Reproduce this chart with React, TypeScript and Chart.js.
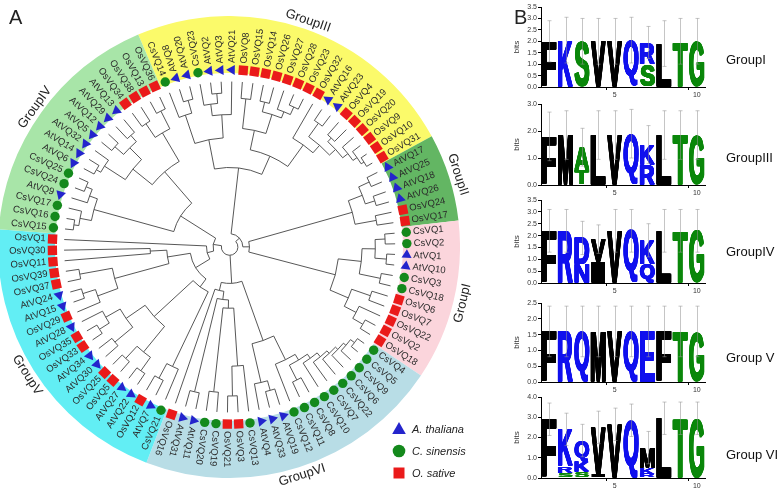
import React, { useEffect, useRef } from 'react';
import { Chart, registerables } from 'chart.js';

Chart.register(...registerables);

const FONT = '"Liberation Sans", Arial, Helvetica, sans-serif';

// ---------------- Panel A data ----------------
type Node = { r: number; kids: (Node | string)[] };
const clade = (r: number, ...kids: (Node | string)[]): Node => ({ r, kids });

const GROUP_NAMES = ['GroupIII', 'GroupII', 'GroupI', 'GroupVI', 'GroupV', 'GroupIV'];
const GROUP_SIZES = [23, 6, 11, 21, 20, 17];
const GROUP_COLORS = ['#fbfa6a', '#63b663', '#fbd5dc', '#b8dde6', '#62eef4', '#a8e5a8'];

const SPECIES_NAMES = ['A. thaliana', 'C. sinensis', 'O. sative'];
const SPECIES_PREFIX = ['At', 'Cs', 'Os'];
const SPECIES_COLORS = ['#2424cc', '#14891c', '#ea1a1a'];
const SPECIES_SHAPES = ['triangle', 'circle', 'rect'];

// internal node value = radial position (fraction of tip radius)
const CLADE_III = clade(0.48,
  clade(0.66,
    clade(0.84, 'CsVQ14', clade(0.92, 'AtVQ8', 'AtVQ20')),
    clade(0.8, clade(0.87, 'CsVQ23', clade(0.93, 'AtVQ2', 'AtVQ3')), 'AtVQ21')),
  clade(0.6,
    clade(0.72,
      clade(0.9, 'OsVQ8', 'OsVQ15'),
      clade(0.84, clade(0.9, 'OsVQ14', 'OsVQ26'), clade(0.88, 'OsVQ27', clade(0.93, 'OsVQ28', 'OsVQ23')))),
    clade(0.76, 'OsVQ32',
      clade(0.82, clade(0.92, 'AtVQ16', 'AtVQ23'),
        clade(0.87, clade(0.9, 'OsVQ4', 'OsVQ19'),
          clade(0.91, 'OsVQ20', clade(0.94, 'OsVQ9', clade(0.96, 'OsVQ10', 'OsVQ31'))))))));

const CLADE_II = clade(0.77,
  clade(0.86, clade(0.93, 'AtVQ17', 'AtVQ25'), clade(0.92, 'AtVQ18', 'AtVQ26')),
  clade(0.9, 'OsVQ24', 'OsVQ17'));

const CLADE_I = clade(0.66,
  clade(0.8, clade(0.88, clade(0.94, 'CsVQ1', 'CsVQ2'), clade(0.95, 'AtVQ1', 'AtVQ10')), clade(0.93, 'CsVQ3', 'CsVQ18')),
  clade(0.78, clade(0.9, 'OsVQ6', 'OsVQ7'), clade(0.86, 'OsVQ22', clade(0.93, 'OsVQ2', 'OsVQ18'))));

const CLADE_VI = clade(0.22,
  clade(0.6,
    clade(0.76,
      clade(0.8,
        clade(0.83,
          clade(0.86, clade(0.88, clade(0.9, clade(0.92, clade(0.95, 'CsVQ4', 'CsVQ5'), 'CsVQ9'), 'CsVQ6'), 'CsVQ22'), 'CsVQ7'),
          'CsVQ10'),
        clade(0.9, 'CsVQ8', 'CsVQ11')),
      'CsVQ12'),
    clade(0.84, clade(0.9, 'AtVQ19', 'AtVQ33'), 'AtVQ4')),
  clade(0.27,
    clade(0.32,
      clade(0.37,
        clade(0.72, 'CsVQ13', clade(0.9, 'OsVQ3', 'OsVQ21')),
        clade(0.88, 'CsVQ19', 'CsVQ20')),
      clade(0.9, 'AtVQ11', 'AtVQ31')),
    'OsVQ16'));

const CLADE_V = clade(0.14,
  clade(0.24,
    clade(0.3,
      clade(0.8, 'CsVQ21', clade(0.9, 'AtVQ7', 'OsVQ12')),
      clade(0.62,
        clade(0.82, clade(0.92, 'AtVQ22', 'AtVQ27'), clade(0.92, 'OsVQ5', 'OsVQ25')),
        clade(0.76, clade(0.9, 'AtVQ30', 'AtVQ34'), clade(0.86, clade(0.93, 'OsVQ33', 'OsVQ35'), 'AtVQ28')))),
    clade(0.38,
      clade(0.72, clade(0.85, 'OsVQ29', clade(0.93, 'AtVQ15', 'AtVQ24')), clade(0.92, 'OsVQ37', 'OsVQ39')),
      clade(0.48, 'OsVQ11', 'OsVQ30'))),
  'OsVQ1');

const CLADE_IV = clade(0.35,
  clade(0.85, clade(0.92, clade(0.95, 'CsVQ15', 'CsVQ16'), 'CsVQ17'), clade(0.9, 'AtVQ9', clade(0.94, 'CsVQ24', 'CsVQ25'))),
  clade(0.6,
    clade(0.75,
      clade(0.9, clade(0.93, 'AtVQ6', 'AtVQ14'), 'AtVQ32'),
      clade(0.85, clade(0.92, 'AtVQ5', 'AtVQ12'), clade(0.9, 'AtVQ29', 'AtVQ13'))),
    clade(0.8, clade(0.9, 'OsVQ34', 'OsVQ38'), clade(0.92, 'OsVQ13', 'OsVQ36'))));

const TREE = clade(0.05,
  clade(0.08, CLADE_III, clade(0.12, CLADE_II, CLADE_I)),
  CLADE_VI,
  clade(0.1, CLADE_V, CLADE_IV));

// ---------------- Panel B data ----------------
const LOGO_POSITIONS = ['1', '2', '3', '4', '5', '6', '7', '8', '9', '10'];
const LOGO_XTICKS = ['', '', '', '', '5', '', '', '', '', '10'];
const LOGO_GROUPS = ['GroupI', 'GroupIII', 'GroupIV', 'Group V', 'Group VI'];
const LOGO_MAX = [3.5, 3.0, 3.5, 2.5, 4.0];
const LOGO_STEP = [0.5, 1.0, 0.5, 0.5, 1.0];

// letters bottom -> top at each position, with their heights in bits
const LOGO_I_LETTERS = ['F', 'K', 'S', 'V', 'V', 'Q', 'SR', 'L', 'T', 'G'];
const LOGO_I_BITS = [[2.0], [2.05], [2.0], [2.0], [2.0], [2.05], [1.0, 0.95], [1.9], [2.0], [2.0]];
const LOGO_I_ERR = [0.9, 1.0, 1.0, 1.0, 1.0, 1.0, 0.7, 1.0, 1.0, 1.0];

const LOGO_III_LETTERS = ['F', 'M', 'TA', 'L', 'V', 'Q', 'RK', 'L', 'T', 'G'];
const LOGO_III_BITS = [[1.8], [1.85], [0.55, 0.85], [1.85], [1.85], [1.9], [0.75, 0.75], [1.85], [1.85], [1.85]];
const LOGO_III_ERR = [0.9, 0.9, 0.7, 0.9, 0.9, 0.9, 0.7, 0.9, 0.9, 0.9];

const LOGO_IV_LETTERS = ['F', 'R', 'ND', 'IV', 'V', 'Q', 'QK', 'L', 'T', 'G'];
const LOGO_IV_BITS = [[2.2], [2.2], [0.8, 1.1], [0.9, 0.95], [2.2], [2.2], [0.8, 1.0], [2.2], [2.2], [2.2]];
const LOGO_IV_ERR = [0.9, 0.9, 0.7, 0.6, 0.9, 0.9, 0.7, 0.9, 0.9, 0.9];

const LOGO_V_LETTERS = ['F', 'R', 'Q', 'M', 'V', 'Q', 'E', 'F', 'T', 'G'];
const LOGO_V_BITS = [[1.6], [1.6], [1.6], [1.6], [1.6], [1.6], [1.6], [1.6], [1.6], [1.6]];
const LOGO_V_ERR = [0.8, 0.8, 0.8, 0.8, 0.8, 0.8, 0.8, 0.8, 0.8, 0.8];

const LOGO_VI_LETTERS = ['F', 'SRK', 'SKQ', 'IV', 'V', 'Q', 'RKM', 'L', 'T', 'G'];
const LOGO_VI_BITS = [[2.9], [0.25, 0.35, 1.8], [0.3, 0.5, 1.05], [0.15, 2.35], [2.65], [2.85], [0.2, 0.3, 1.0], [2.95], [2.95], [2.95]];
const LOGO_VI_ERR = [0.8, 0.8, 0.8, 0.8, 0.8, 0.8, 0.8, 0.8, 0.8, 0.8];

const LOGO_LETTERS = [LOGO_I_LETTERS, LOGO_III_LETTERS, LOGO_IV_LETTERS, LOGO_V_LETTERS, LOGO_VI_LETTERS];
const LOGO_BITS = [LOGO_I_BITS, LOGO_III_BITS, LOGO_IV_BITS, LOGO_V_BITS, LOGO_VI_BITS];
const LOGO_ERR = [LOGO_I_ERR, LOGO_III_ERR, LOGO_IV_ERR, LOGO_V_ERR, LOGO_VI_ERR];

const LETTER_COLORS: Record<string, string> = {
  F: '#000000', V: '#000000', L: '#000000', M: '#000000', I: '#000000',
  K: '#1010ee', R: '#1010ee', Q: '#1010ee', E: '#1010ee', D: '#1010ee', N: '#1010ee',
  S: '#0a870a', T: '#0a870a', G: '#0a870a', A: '#0a870a',
};

// ---------------- layout (not data) ----------------
const TREE_W = 505;
const H = 493;
const CX = 229;
const CY = 247;
const TIP_R = 170;
const MARKER_R = 182;
const LABEL_R = 189;
const RING_IN = 174;
const RING_OUT = 231;
const GROUP_LABEL_R = 246;
const START_DEG = -21.3;

const LOGO_LEFT = 512;
const LOGO_AXIS_W = 29;
const LOGO_RIGHT = 705;
const LOGO_XAXIS_H = 14;
const LOGO_PAD_TOP = 6;
const LOGO_PLOT_TOP = [7, 104, 200, 303, 397];
const LOGO_PLOT_BOTTOM = [87, 185, 283, 382, 478];
const LOGO_LABEL_X = 726;
const LOGO_LABEL_Y = [60, 158, 252, 358, 455];

const rad = (d: number) => (d * Math.PI) / 180;

function leavesOf(n: Node | string, out: string[] = []): string[] {
  if (typeof n === 'string') out.push(n);
  else n.kids.forEach((k) => leavesOf(k, out));
  return out;
}

type Laid = { angle: number; r: number; kids: Laid[] };
function layout(n: Node | string, counter: { i: number }, step: number): Laid {
  if (typeof n === 'string') {
    const a = START_DEG + counter.i * step;
    counter.i++;
    return { angle: a, r: TIP_R, kids: [] };
  }
  const kids = n.kids.map((k) => layout(k, counter, step));
  return { angle: (kids[0].angle + kids[kids.length - 1].angle) / 2, r: n.r * TIP_R, kids };
}

function RingChart() {
  const ref = useRef<HTMLCanvasElement>(null);
  useEffect(() => {
    const step = 360 / GROUP_SIZES.reduce((a, b) => a + b, 0);
    const chart = new Chart(ref.current!, {
      type: 'doughnut',
      data: {
        labels: GROUP_NAMES,
        datasets: [{ data: GROUP_SIZES, backgroundColor: GROUP_COLORS, borderWidth: 0, hoverOffset: 0 }],
      },
      options: {
        responsive: false,
        animation: false,
        events: [],
        rotation: START_DEG - step / 2,
        cutout: `${(RING_IN / RING_OUT) * 100}%`,
        layout: { padding: 0 },
        plugins: { legend: { display: false }, tooltip: { enabled: false } },
      } as any,
    });
    return () => chart.destroy();
  }, []);
  return (
    <canvas
      ref={ref}
      width={RING_OUT * 2}
      height={RING_OUT * 2}
      style={{ position: 'absolute', left: CX - RING_OUT, top: CY - RING_OUT, width: RING_OUT * 2, height: RING_OUT * 2 }}
    />
  );
}

function TreeChart() {
  const ref = useRef<HTMLCanvasElement>(null);
  useEffect(() => {
    const leaves = leavesOf(TREE);
    const step = 360 / leaves.length;
    const laid = layout(TREE, { i: 0 }, step);

    const datasets = SPECIES_PREFIX.map((prefix, s) => ({
      label: SPECIES_NAMES[s],
      data: leaves
        .map((name, i) => ({ name, th: START_DEG + i * step }))
        .filter((o) => o.name.startsWith(prefix))
        .map((o) => ({ x: MARKER_R * Math.sin(rad(o.th)), y: MARKER_R * Math.cos(rad(o.th)), th: o.th })),
      pointStyle: SPECIES_SHAPES[s],
      pointRadius: s === 0 ? 5.8 : s === 1 ? 4.7 : 6.6,
      pointBackgroundColor: SPECIES_COLORS[s],
      pointBorderColor: SPECIES_COLORS[s],
      pointBorderWidth: 0,
      pointRotation: (c: any) => (c.raw ? (s === 0 ? c.raw.th - 90 : s === 2 ? c.raw.th : 0) : 0),
      showLine: false,
    }));

    const treePlugin = {
      id: 'treePlugin',
      beforeDatasetsDraw(chart: any) {
        const { ctx } = chart;
        const xs = chart.scales.x;
        const ys = chart.scales.y;
        const P = (r: number, th: number) => ({
          x: xs.getPixelForValue(r * Math.sin(rad(th))),
          y: ys.getPixelForValue(r * Math.cos(rad(th))),
        });
        const c0 = P(0, 0);
        const k = xs.getPixelForValue(1) - xs.getPixelForValue(0);
        ctx.save();
        ctx.strokeStyle = '#444';
        ctx.lineWidth = 0.9;
        const walk = (n: Laid) => {
          if (!n.kids.length) return;
          const a1 = n.kids[0].angle;
          const a2 = n.kids[n.kids.length - 1].angle;
          ctx.beginPath();
          ctx.arc(c0.x, c0.y, n.r * k, rad(a1 - 90), rad(a2 - 90));
          ctx.stroke();
          n.kids.forEach((c) => {
            const p1 = P(n.r, c.angle);
            const p2 = P(c.r, c.angle);
            ctx.beginPath();
            ctx.moveTo(p1.x, p1.y);
            ctx.lineTo(p2.x, p2.y);
            ctx.stroke();
            walk(c);
          });
        };
        walk(laid);
        ctx.restore();
      },
      afterDatasetsDraw(chart: any) {
        const { ctx } = chart;
        const xs = chart.scales.x;
        const ys = chart.scales.y;
        const P = (r: number, th: number) => ({
          x: xs.getPixelForValue(r * Math.sin(rad(th))),
          y: ys.getPixelForValue(r * Math.cos(rad(th))),
        });
        ctx.save();
        // leaf labels
        ctx.font = `9.5px ${FONT}`;
        ctx.fillStyle = '#2a2a2a';
        ctx.textBaseline = 'middle';
        leaves.forEach((name, i) => {
          const th = START_DEG + i * step;
          const thn = ((th % 360) + 360) % 360;
          const p = P(LABEL_R, th);
          ctx.save();
          ctx.translate(p.x, p.y);
          if (thn > 200 && thn < 341) {
            ctx.rotate(rad(th + 90));
            ctx.textAlign = 'right';
          } else {
            ctx.rotate(rad(th - 90));
            ctx.textAlign = 'left';
          }
          ctx.fillText(name, 0, 0);
          ctx.restore();
        });
        // group labels
        ctx.font = `13px ${FONT}`;
        ctx.fillStyle = '#222';
        ctx.textAlign = 'center';
        let off = 0;
        GROUP_NAMES.forEach((g, gi) => {
          const mid = off + (GROUP_SIZES[gi] - 1) / 2;
          off += GROUP_SIZES[gi];
          const th = START_DEG + mid * step;
          const thn = ((th % 360) + 360) % 360;
          const p = P(GROUP_LABEL_R, th);
          ctx.save();
          ctx.translate(p.x, p.y);
          let rot = thn;
          if (thn > 90 && thn < 270) rot = thn - 180;
          else if (thn >= 270) rot = thn - 360;
          ctx.rotate(rad(rot));
          ctx.fillText(g, 0, 0);
          ctx.restore();
        });
        // legend
        const lx = 399;
        const ly = [429, 451, 473];
        ctx.font = `italic 11px ${FONT}`;
        ctx.textAlign = 'left';
        SPECIES_NAMES.forEach((nm, s) => {
          const y = ly[s];
          ctx.fillStyle = SPECIES_COLORS[s];
          ctx.beginPath();
          if (s === 0) {
            ctx.moveTo(lx, y - 7);
            ctx.lineTo(lx + 6.8, y + 5);
            ctx.lineTo(lx - 6.8, y + 5);
            ctx.closePath();
          } else if (s === 1) {
            ctx.arc(lx, y, 6.3, 0, Math.PI * 2);
          } else {
            ctx.rect(lx - 5.5, y - 5.5, 11, 11);
          }
          ctx.fill();
          ctx.fillStyle = '#222';
          ctx.fillText(nm, 412, y + 0.5);
        });
        ctx.restore();
      },
    };

    const chart = new Chart(ref.current!, {
      type: 'scatter',
      data: { datasets: datasets as any },
      options: {
        responsive: false,
        animation: false,
        events: [],
        layout: { padding: 0 },
        scales: {
          x: { type: 'linear', min: -CX, max: TREE_W - CX, display: false },
          y: { type: 'linear', min: -(H - CY), max: CY, display: false },
        },
        plugins: { legend: { display: false }, tooltip: { enabled: false } },
      },
      plugins: [treePlugin],
    });
    return () => chart.destroy();
  }, []);
  return (
    <canvas ref={ref} width={TREE_W} height={H} style={{ position: 'absolute', left: 0, top: 0, width: TREE_W, height: H }} />
  );
}

function LogoChart({ idx }: { idx: number }) {
  const ref = useRef<HTMLCanvasElement>(null);
  const top = LOGO_PLOT_TOP[idx] - LOGO_PAD_TOP;
  const height = LOGO_PLOT_BOTTOM[idx] + LOGO_XAXIS_H - top;
  const width = 778 - LOGO_LEFT;
  useEffect(() => {
    const letters = LOGO_LETTERS[idx];
    const bits = LOGO_BITS[idx];
    const err = LOGO_ERR[idx];
    const layers = Math.max(...letters.map((s) => s.length));
    const datasets = Array.from({ length: layers }, (_, l) => ({
      data: bits.map((b) => b[l] ?? 0),
      backgroundColor: 'rgba(0,0,0,0)',
      borderWidth: 0,
      barPercentage: 0.94,
      categoryPercentage: 1,
    }));

    const logoPlugin = {
      id: 'logoPlugin',
      afterDatasetsDraw(chart: any) {
        const { ctx } = chart;
        ctx.save();
        ctx.font = `bold 100px ${FONT}`;
        ctx.textAlign = 'left';
        ctx.textBaseline = 'alphabetic';
        for (let l = 0; l < layers; l++) {
          const meta = chart.getDatasetMeta(l);
          meta.data.forEach((el: any, i: number) => {
            const ch = letters[i][l];
            if (!ch || !(bits[i][l] > 0)) return;
            const { x, y, base, width: w } = el.getProps(['x', 'y', 'base', 'width'], true);
            const h = base - y;
            if (h <= 0.3) return;
            const m = ctx.measureText(ch);
            const gw = m.actualBoundingBoxLeft + m.actualBoundingBoxRight;
            const gh = m.actualBoundingBoxAscent + m.actualBoundingBoxDescent;
            const tx = Math.min(1.6, w * 0.1);
            const ty = Math.min(0.8, h * 0.05);
            ctx.fillStyle = LETTER_COLORS[ch] || '#000';
            for (let dx = 0; dx <= tx + 1e-6; dx += 0.4) {
              for (let dy = 0; dy <= ty + 1e-6; dy += 0.4) {
                ctx.save();
                ctx.translate(x - w / 2 + dx, y + dy);
                ctx.scale((w - tx) / gw, (h - ty) / gh);
                ctx.fillText(ch, m.actualBoundingBoxLeft, m.actualBoundingBoxAscent);
                ctx.restore();
              }
            }
          });
        }
        // error bars
        const xs = chart.scales.x;
        const ys = chart.scales.y;
        ctx.strokeStyle = 'rgba(150,150,150,0.55)';
        ctx.lineWidth = 1;
        bits.forEach((b, i) => {
          const t = b.reduce((a, v) => a + v, 0);
          const x = Math.round(xs.getPixelForValue(i)) + 0.5;
          const y1 = ys.getPixelForValue(t + err[i]);
          const y2 = ys.getPixelForValue(Math.max(0, t - err[i]));
          ctx.beginPath();
          ctx.moveTo(x, y1);
          ctx.lineTo(x, y2);
          ctx.moveTo(x - 2, y1);
          ctx.lineTo(x + 2, y1);
          ctx.moveTo(x - 2, y2);
          ctx.lineTo(x + 2, y2);
          ctx.stroke();
        });
        // group label
        ctx.font = `13px ${FONT}`;
        ctx.fillStyle = '#111';
        ctx.textAlign = 'left';
        ctx.textBaseline = 'middle';
        ctx.fillText(LOGO_GROUPS[idx], LOGO_LABEL_X - LOGO_LEFT, LOGO_LABEL_Y[idx] - top);
        ctx.restore();
      },
    };

    const chart = new Chart(ref.current!, {
      type: 'bar',
      data: { labels: LOGO_POSITIONS, datasets },
      options: {
        responsive: false,
        animation: false,
        events: [],
        layout: { padding: { top: LOGO_PAD_TOP, right: 778 - LOGO_RIGHT, left: 0, bottom: 0 } },
        plugins: { legend: { display: false }, tooltip: { enabled: false } },
        scales: {
          x: {
            type: 'category',
            stacked: true,
            offset: true,
            grid: {
              display: true,
              drawOnChartArea: false,
              drawTicks: true,
              tickLength: 3,
              color: (c: any) => (LOGO_XTICKS[c.index] ? '#000' : 'rgba(0,0,0,0)'),
            },
            border: { display: true, color: '#000', width: 1 },
            ticks: {
              autoSkip: false,
              maxRotation: 0,
              padding: 1,
              color: '#333',
              font: { size: 7, family: FONT },
              callback: (_v: any, i: number) => LOGO_XTICKS[i],
            },
            afterFit: (s: any) => {
              s.height = LOGO_XAXIS_H;
            },
          },
          y: {
            stacked: true,
            min: 0,
            max: LOGO_MAX[idx],
            grid: { display: true, drawOnChartArea: false, drawTicks: true, tickLength: 3, color: '#000' },
            border: { display: true, color: '#000', width: 1 },
            ticks: {
              autoSkip: false,
              stepSize: LOGO_STEP[idx],
              padding: 1,
              color: '#333',
              font: { size: 7, family: FONT },
              callback: (v: any) => Number(v).toFixed(1),
            },
            title: { display: true, text: 'bits', color: '#333', font: { size: 8, family: FONT }, padding: { top: 0, bottom: 0 } },
            afterFit: (s: any) => {
              s.width = LOGO_AXIS_W;
            },
          },
        },
      } as any,
      plugins: [logoPlugin],
    });
    return () => chart.destroy();
  }, [idx]);
  return (
    <canvas
      ref={ref}
      width={width}
      height={height}
      style={{ position: 'absolute', left: LOGO_LEFT, top, width, height }}
    />
  );
}

export default function App() {
  useEffect(() => {
    document.body.style.margin = '0';
  }, []);
  return (
    <div
      style={{
        position: 'absolute',
        left: 0,
        top: 0,
        width: 778,
        height: 493,
        background: '#fff',
        overflow: 'hidden',
        fontFamily: FONT,
      }}
    >
      <RingChart />
      <TreeChart />
      {LOGO_GROUPS.map((_, k) => (
        <LogoChart key={k} idx={k} />
      ))}
      <div style={{ position: 'absolute', left: 9, top: 6, fontSize: 20, color: '#222', lineHeight: '22px' }}>A</div>
      <div style={{ position: 'absolute', left: 514, top: 6, fontSize: 20, color: '#222', lineHeight: '22px' }}>B</div>
    </div>
  );
}
